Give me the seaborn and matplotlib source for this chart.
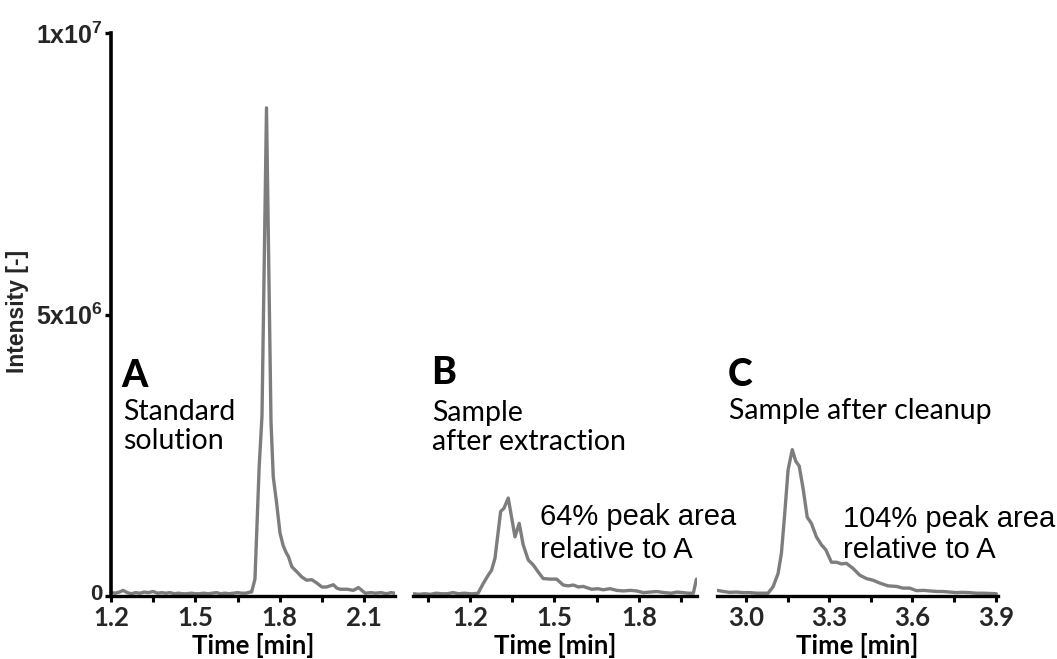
import numpy as np
import pandas as pd
import matplotlib
matplotlib.use("Agg")
import matplotlib.pyplot as plt
import seaborn as sns
from matplotlib.ticker import FixedLocator
import matplotlib.transforms as mtransforms

# ---------------- data (intensity in units of 1e6) ----------------
a_time = [1.200, 1.215, 1.230, 1.243, 1.258, 1.272, 1.288, 1.303, 1.318, 1.333,
          1.350, 1.365, 1.380, 1.395, 1.410, 1.425, 1.440, 1.455, 1.470, 1.485,
          1.500, 1.515, 1.530, 1.545, 1.560, 1.575, 1.590, 1.605, 1.620, 1.635,
          1.650, 1.665, 1.680, 1.695, 1.700, 1.712, 1.727, 1.737, 1.753, 1.769,
          1.777, 1.789, 1.801, 1.812, 1.822, 1.831, 1.843, 1.861, 1.878, 1.896,
          1.914, 1.932, 1.950, 1.967, 1.991, 2.003, 2.015, 2.040, 2.062, 2.080,
          2.104, 2.125, 2.140, 2.160, 2.180, 2.195, 2.210]
a_int = [0.06, 0.05, 0.07, 0.10, 0.06, 0.04, 0.06, 0.05, 0.07, 0.06,
         0.08, 0.05, 0.06, 0.05, 0.06, 0.04, 0.05, 0.04, 0.04, 0.05,
         0.04, 0.04, 0.05, 0.04, 0.05, 0.06, 0.04, 0.05, 0.04, 0.05,
         0.06, 0.05, 0.05, 0.07, 0.07, 0.30, 2.30, 3.20, 8.67, 3.10,
         2.12, 1.65, 1.12, 0.90, 0.78, 0.70, 0.52, 0.43, 0.34, 0.28,
         0.29, 0.23, 0.16, 0.16, 0.20, 0.14, 0.12, 0.12, 0.10, 0.15,
         0.05, 0.06, 0.05, 0.06, 0.04, 0.06, 0.05]

b_time = [1.000, 1.020, 1.040, 1.060, 1.080, 1.100, 1.120, 1.140, 1.160, 1.180,
          1.200, 1.215, 1.229, 1.247, 1.265, 1.277, 1.289, 1.309, 1.321, 1.336,
          1.360, 1.375, 1.389, 1.407, 1.425, 1.442, 1.460, 1.485, 1.508, 1.531,
          1.549, 1.567, 1.585, 1.602, 1.632, 1.655, 1.673, 1.697, 1.721, 1.745,
          1.770, 1.792, 1.816, 1.840, 1.863, 1.890, 1.915, 1.935, 1.957, 1.975,
          1.993, 2.004]
b_int = [0.04, 0.03, 0.04, 0.03, 0.05, 0.04, 0.04, 0.06, 0.04, 0.05,
         0.04, 0.04, 0.05, 0.22, 0.37, 0.46, 0.67, 1.50, 1.56, 1.74,
         1.05, 1.29, 0.91, 0.64, 0.55, 0.43, 0.31, 0.30, 0.30, 0.195,
         0.18, 0.195, 0.16, 0.17, 0.12, 0.13, 0.11, 0.13, 0.10, 0.09,
         0.10, 0.09, 0.06, 0.07, 0.08, 0.06, 0.05, 0.07, 0.06, 0.05,
         0.05, 0.30]

c_time = [2.896, 2.920, 2.942, 2.965, 2.990, 3.015, 3.038, 3.060, 3.080, 3.098,
          3.116, 3.128, 3.140, 3.152, 3.167, 3.180, 3.192, 3.206, 3.221, 3.236,
          3.254, 3.272, 3.288, 3.308, 3.326, 3.344, 3.362, 3.386, 3.410, 3.434,
          3.458, 3.482, 3.512, 3.542, 3.566, 3.590, 3.614, 3.640, 3.662, 3.690,
          3.710, 3.735, 3.758, 3.780, 3.805, 3.830, 3.854, 3.880, 3.902]
c_int = [0.10, 0.08, 0.065, 0.07, 0.06, 0.06, 0.05, 0.05, 0.05, 0.165,
         0.40, 0.76, 1.47, 2.24, 2.60, 2.39, 2.31, 1.91, 1.40, 1.29,
         1.05, 0.91, 0.82, 0.60, 0.60, 0.57, 0.58, 0.49, 0.37, 0.31,
         0.28, 0.23, 0.18, 0.17, 0.14, 0.14, 0.095, 0.10, 0.09, 0.08,
         0.08, 0.07, 0.06, 0.065, 0.06, 0.05, 0.05, 0.045, 0.04]

a_major = [1.2, 1.5, 1.8, 2.1]
a_minor = [1.35, 1.65, 1.95]
b_major = [1.2, 1.5, 1.8]
b_minor = [1.05, 1.35, 1.65, 1.95]
c_major = [3.0, 3.3, 3.6, 3.9]
c_minor = [3.15, 3.45, 3.75]
y_ticks = [0, 5e6, 1e7]
y_ticklabels = ["0", "5x10$^{6}$", "1x10$^{7}$"]

# ---------------- style ----------------
sns.set_theme(style="ticks")
plt.rcParams["font.family"] = ["Lato", "DejaVu Sans"]
plt.rcParams["mathtext.fontset"] = "custom"
plt.rcParams["mathtext.rm"] = "Liberation Sans:bold"
plt.rcParams["mathtext.it"] = "Liberation Sans:bold"
plt.rcParams["mathtext.bf"] = "Liberation Sans:bold"
plt.rcParams["mathtext.default"] = "rm"

W, H = 1057, 659
fig = plt.figure(figsize=(W / 100, H / 100), dpi=100)
fig.patch.set_facecolor("white")

def fx(px):
    return px / W

def fy(py):
    return 1 - py / H

y0, y1 = 596, 33
panels = [
    (111, 284, (1.2, 2.210), a_time, a_int, a_major, a_minor),
    (413, 284, (0.998, 2.006), b_time, b_int, b_major, b_minor),
    (717, 281, (2.896, 3.908), c_time, c_int, c_major, c_minor),
]

line_color = "#7d7d7d"
arial = ["Liberation Sans", "DejaVu Sans"]
axes = []
for i, (left, width, xlim, t, v, maj, mnr) in enumerate(panels):
    ax = fig.add_axes([fx(left), fy(y0), width / W, (y0 - y1) / H])
    ax.set_facecolor("white")
    df = pd.DataFrame({"time": t, "intensity": np.array(v) * 1e6})
    sns.lineplot(data=df, x="time", y="intensity", ax=ax, color=line_color,
                 linewidth=2.4, estimator=None, sort=False)
    ax.set_xlim(*xlim)
    ax.set_ylim(0, 1e7)
    ax.xaxis.set_major_locator(FixedLocator(maj))
    ax.xaxis.set_minor_locator(FixedLocator(mnr))
    ax.set_xticklabels([f"{m:.1f}" for m in maj])
    for lab in ax.get_xticklabels():
        lab.set_fontweight("bold")
        lab.set_fontsize(18.5)
    ax.tick_params(axis="x", which="both", direction="out", length=4,
                   width=2.2, color="black", pad=3.5)
    ax.spines["top"].set_visible(False)
    ax.spines["right"].set_visible(False)
    ax.spines["bottom"].set_linewidth(2.4)
    ax.spines["bottom"].set_color("black")
    ax.set_xlabel("Time [min]", fontsize=18.5, fontweight="bold", color="black")
    ax.xaxis.set_label_coords(0.5, -0.066)
    if i == 0:
        ax.spines["left"].set_linewidth(2.6)
        ax.spines["left"].set_color("black")
        ax.set_yticks(y_ticks)
        ax.set_yticklabels(y_ticklabels, fontweight="bold", family=arial)
        ax.tick_params(axis="y", which="major", direction="out", length=4,
                       width=2.4, color="black", pad=2, labelsize=18)
        zero_lab = ax.get_yticklabels()[0]
        zero_lab.set_fontsize(16)
        zero_lab.set_transform(zero_lab.get_transform() +
                               mtransforms.ScaledTranslation(0, 4 / 100, fig.dpi_scale_trans))
        ax.set_ylabel("Intensity [-]", fontsize=16.5, fontweight="bold",
                      family=arial)
        ax.yaxis.set_label_coords(-0.29, 0.506)
    else:
        ax.spines["left"].set_visible(False)
        ax.set_yticks([])
        ax.set_ylabel("")
    axes.append(ax)

# ---------------- annotations ----------------
def txt(px, py, s, size, weight="normal", family=None):
    kw = {}
    if family is not None:
        kw["family"] = family
    fig.text(fx(px), fy(py), s, fontsize=size, fontweight=weight,
             ha="left", va="baseline", color="black", **kw)

letter_size = 27
desc_size = 20.5

txt(121, 387, "A", letter_size, "black")
txt(123, 420, "Standard", desc_size)
txt(123, 449, "solution", desc_size)

txt(431, 384, "B", letter_size, "black")
txt(432, 421, "Sample", desc_size)
txt(432, 450, "after extraction", desc_size)

txt(728, 386, "C", letter_size, "black")
txt(729, 419, "Sample after cleanup", desc_size)

txt(540, 525, "64% peak area", 21, family=arial)
txt(540, 558, "relative to A", 21, family=arial)
txt(843, 527, "104% peak area", 21, family=arial)
txt(843, 558, "relative to A", 21, family=arial)

fig.savefig("out.png", dpi=100, facecolor="white")
